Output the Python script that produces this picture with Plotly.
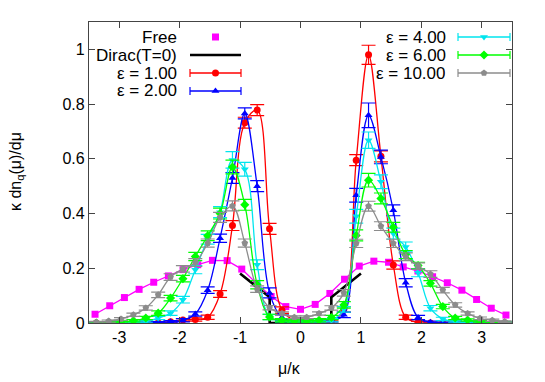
import plotly.graph_objects as go

# ---------------- data ----------------
x_free = [-3.400, -3.157, -2.914, -2.671, -2.429, -2.186, -1.943, -1.700, -1.457, -1.214,
          -0.972, -0.729, -0.486, -0.243, 0.000, 0.243, 0.486, 0.729, 0.972, 1.214,
          1.457, 1.700, 1.943, 2.186, 2.429, 2.671, 2.914, 3.157, 3.400]
y_free = [0.032, 0.063, 0.093, 0.123, 0.149, 0.172, 0.195, 0.213, 0.229, 0.228,
          0.197, 0.145, 0.097, 0.060, 0.050, 0.068, 0.108, 0.160, 0.208, 0.226,
          0.222, 0.205, 0.190, 0.169, 0.147, 0.120, 0.086, 0.054, 0.029]

x_dirac = [-1.0, -0.51, -0.51, 0.51, 0.51, 1.0]
y_dirac = [0.181, 0.094, 0.0, 0.0, 0.094, 0.181]

x_eps = [-3.379, -3.174, -2.970, -2.765, -2.560, -2.355, -2.150, -1.946, -1.741, -1.536,
         -1.331, -1.126, -0.922, -0.717, -0.512, -0.307, -0.102, 0.102, 0.307, 0.512,
         0.717, 0.922, 1.126, 1.331, 1.536, 1.741, 1.946, 2.150, 2.355, 2.560,
         2.765, 2.970, 3.174, 3.379]

y_eps1 = [0.0, 0.0, 0.0, 0.0, 0.0, 0.001, 0.005, 0.011, 0.013, 0.021,
          0.106, 0.356, 0.732, 0.778, 0.344, 0.047, 0.010, 0.005, 0.003, 0.005,
          0.050, 0.595, 0.980, 0.609, 0.212, 0.021, 0.002, 0.0, 0.0, 0.0,
          0.0, 0.0, 0.0, 0.0]
e_eps1 = [0.003, 0.003, 0.003, 0.003, 0.003, 0.003, 0.004, 0.005, 0.006, 0.008,
          0.012, 0.018, 0.020, 0.020, 0.020, 0.012, 0.006, 0.005, 0.005, 0.005,
          0.010, 0.020, 0.035, 0.020, 0.015, 0.008, 0.004, 0.003, 0.003, 0.003,
          0.003, 0.003, 0.003, 0.003]

y_eps2 = [0.0, 0.0, 0.0, 0.0, 0.0, 0.002, 0.005, 0.010, 0.033, 0.120,
          0.310, 0.530, 0.766, 0.500, 0.110, 0.020, 0.008, 0.005, 0.005, 0.010,
          0.030, 0.467, 0.759, 0.607, 0.412, 0.147, 0.020, 0.003, 0.0, 0.0,
          0.0, 0.0, 0.0, 0.0]
e_eps2 = [0.003, 0.003, 0.003, 0.003, 0.003, 0.003, 0.004, 0.006, 0.008, 0.012,
          0.015, 0.020, 0.020, 0.020, 0.018, 0.010, 0.006, 0.005, 0.005, 0.006,
          0.010, 0.025, 0.045, 0.025, 0.020, 0.015, 0.008, 0.004, 0.003, 0.003,
          0.003, 0.003, 0.003, 0.003]

y_eps4 = [0.0, 0.0, 0.001, 0.002, 0.005, 0.018, 0.036, 0.085, 0.195, 0.306,
          0.405, 0.596, 0.562, 0.213, 0.022, 0.010, 0.005, 0.005, 0.005, 0.010,
          0.050, 0.390, 0.668, 0.516, 0.327, 0.278, 0.184, 0.054, 0.015, 0.005,
          0.0, 0.0, 0.0, 0.0]
e_eps4 = [0.003, 0.003, 0.003, 0.003, 0.004, 0.006, 0.008, 0.012, 0.015, 0.018,
          0.020, 0.030, 0.025, 0.018, 0.010, 0.006, 0.005, 0.005, 0.005, 0.006,
          0.010, 0.025, 0.030, 0.025, 0.020, 0.018, 0.015, 0.010, 0.006, 0.004,
          0.003, 0.003, 0.003, 0.003]

y_eps6 = [0.0, 0.002, 0.004, 0.008, 0.018, 0.036, 0.091, 0.162, 0.243, 0.319,
          0.400, 0.570, 0.432, 0.140, 0.022, 0.010, 0.008, 0.008, 0.010, 0.020,
          0.066, 0.320, 0.522, 0.455, 0.350, 0.250, 0.210, 0.145, 0.060, 0.018,
          0.011, 0.005, 0.002, 0.0]
e_eps6 = [0.003, 0.003, 0.004, 0.004, 0.006, 0.008, 0.010, 0.012, 0.015, 0.018,
          0.020, 0.025, 0.020, 0.015, 0.010, 0.006, 0.005, 0.005, 0.006, 0.008,
          0.012, 0.020, 0.025, 0.020, 0.018, 0.015, 0.012, 0.010, 0.008, 0.006,
          0.004, 0.004, 0.003, 0.003]

y_eps10 = [0.003, 0.007, 0.015, 0.030, 0.055, 0.103, 0.168, 0.198, 0.221, 0.292,
           0.386, 0.428, 0.292, 0.124, 0.056, 0.035, 0.021, 0.021, 0.035, 0.055,
           0.110, 0.291, 0.427, 0.354, 0.291, 0.242, 0.208, 0.179, 0.120, 0.066,
           0.035, 0.017, 0.010, 0.005]
e_eps10 = [0.003, 0.004, 0.005, 0.006, 0.008, 0.010, 0.012, 0.012, 0.014, 0.015,
           0.018, 0.018, 0.015, 0.012, 0.008, 0.006, 0.005, 0.005, 0.006, 0.008,
           0.012, 0.015, 0.018, 0.016, 0.015, 0.014, 0.012, 0.012, 0.010, 0.008,
           0.006, 0.005, 0.004, 0.003]

x_tickvals = [-3, -2, -1, 0, 1, 2, 3]
x_ticktext = ["-3", "-2", "-1", "0", "1", "2", "3"]
y_tickvals = [0, 0.2, 0.4, 0.6, 0.8, 1.0]
y_ticktext = ["0", "0.2", "0.4", "0.6", "0.8", "1"]

eps_series = [
    ("ε = 1.00", y_eps1, e_eps1, "#ff0000", "circle"),
    ("ε = 2.00", y_eps2, e_eps2, "#0000ff", "triangle-up"),
    ("ε = 4.00", y_eps4, e_eps4, "#00e5ee", "triangle-down"),
    ("ε = 6.00", y_eps6, e_eps6, "#00ff00", "diamond"),
    ("ε = 10.00", y_eps10, e_eps10, "#8c8c8c", "pentagon"),
]

# ---------------- layout constants ----------------
W, H = 545, 382
L, R, T, B = 89, 33, 22, 59
FONT = "Liberation Sans, Arial, Helvetica, sans-serif"
MS = 7

fig = go.Figure()

# Free
fig.add_trace(go.Scatter(x=x_free, y=y_free, mode="lines+markers",
                         line=dict(color="#ff00ff", width=1.3),
                         marker=dict(symbol="square", size=MS, color="#ff00ff"),
                         showlegend=False))
# Dirac
fig.add_trace(go.Scatter(x=x_dirac, y=y_dirac, mode="lines",
                         line=dict(color="#000000", width=2.6),
                         showlegend=False))

for name, ys, es, col, sym in eps_series:
    fig.add_trace(go.Scatter(x=x_eps, y=ys, mode="lines",
                             line=dict(color=col, width=1.3, shape="spline", smoothing=1.0),
                             showlegend=False, hoverinfo="skip"))
    fig.add_trace(go.Scatter(x=x_eps, y=ys, mode="markers",
                             marker=dict(symbol=sym, size=MS, color=col),
                             error_y=dict(type="data", array=es, color=col,
                                          thickness=1.2, width=7),
                             showlegend=False, name=name))

# ---------- hand-built legend (pixel coordinates) ----------
def pxx(px):
    return (px - L) / (W - L - R)

def pxy(py):
    return (H - B - py) / (H - T - B)

leg_rows = [
    ("Free", 178, 37, 190, 241, "#ff00ff", "square", "point"),
    ("Dirac(T=0)", 178, 55, 190, 241, "#000000", None, "line"),
    ("ε = 1.00", 178, 73, 190, 241, "#ff0000", "circle", "err"),
    ("ε = 2.00", 178, 91, 190, 241, "#0000ff", "triangle-up", "err"),
    ("ε = 4.00", 447, 37, 458, 510, "#00e5ee", "triangle-down", "err"),
    ("ε = 6.00", 447, 55, 458, 510, "#00ff00", "diamond", "err"),
    ("ε = 10.00", 447, 73, 458, 510, "#8c8c8c", "pentagon", "err"),
]

annotations = []
shapes = []
for text, tx, ty, x0, x1, col, sym, kind in leg_rows:
    annotations.append(dict(text=text, x=pxx(tx), y=pxy(ty), xref="paper", yref="paper",
                            xanchor="right", yanchor="middle", showarrow=False,
                            height=17, borderpad=0,
                            font=dict(family=FONT, size=17, color="#000000")))
    if kind == "line":
        shapes.append(dict(type="line", xref="paper", yref="paper",
                           x0=pxx(x0), x1=pxx(x1), y0=pxy(ty), y1=pxy(ty),
                           line=dict(color=col, width=2.6)))
    if kind == "err":
        shapes.append(dict(type="line", xref="paper", yref="paper",
                           x0=pxx(x0), x1=pxx(x1), y0=pxy(ty), y1=pxy(ty),
                           line=dict(color=col, width=1.3)))
        for xe in (x0, x1):
            shapes.append(dict(type="line", xref="paper", yref="paper",
                               x0=pxx(xe), x1=pxx(xe), y0=pxy(ty - 4), y1=pxy(ty + 4),
                               line=dict(color=col, width=1.2)))
    if sym is not None:
        fig.add_trace(go.Scatter(x=[(x0 + x1) / 2], y=[ty], mode="markers",
                                 marker=dict(symbol=sym, size=MS, color=col),
                                 xaxis="x2", yaxis="y2", showlegend=False,
                                 hoverinfo="skip", cliponaxis=False))

# axis titles
annotations.append(dict(text="μ/κ", x=pxx(289), y=pxy(369), xref="paper", yref="paper",
                        xanchor="center", yanchor="middle", showarrow=False,
                        font=dict(family=FONT, size=16, color="#000000")))
annotations.append(dict(text="κ dn<sub>q</sub>(μ)/dμ", x=pxx(16), y=pxy(172), xref="paper",
                        yref="paper", xanchor="center", yanchor="middle", showarrow=False,
                        textangle=-90, font=dict(family=FONT, size=16, color="#000000")))

axis_common = dict(showline=True, mirror="allticks", linecolor="#444444", linewidth=1.2,
                   ticks="inside", ticklen=6, tickcolor="#444444", tickwidth=1,
                   showgrid=False, zeroline=False,
                   tickfont=dict(family=FONT, size=16, color="#000000"))

fig.update_layout(
    width=W, height=H,
    margin=dict(l=L, r=R, t=T, b=B, pad=0),
    paper_bgcolor="white", plot_bgcolor="white",
    showlegend=False,
    xaxis=dict(range=[-3.5, 3.5], tickvals=x_tickvals, ticktext=x_ticktext, **axis_common),
    yaxis=dict(range=[0, 1.1], tickvals=y_tickvals, ticktext=y_ticktext, **axis_common),
    xaxis2=dict(overlaying="x", range=[L, W - R], visible=False, fixedrange=True),
    yaxis2=dict(overlaying="y", range=[H - B, T], visible=False, fixedrange=True),
    annotations=annotations,
    shapes=shapes,
)

fig.write_html("out.html", config={"displayModeBar": False},
               post_script="document.body.style.margin='0';document.body.style.overflow='hidden';")
